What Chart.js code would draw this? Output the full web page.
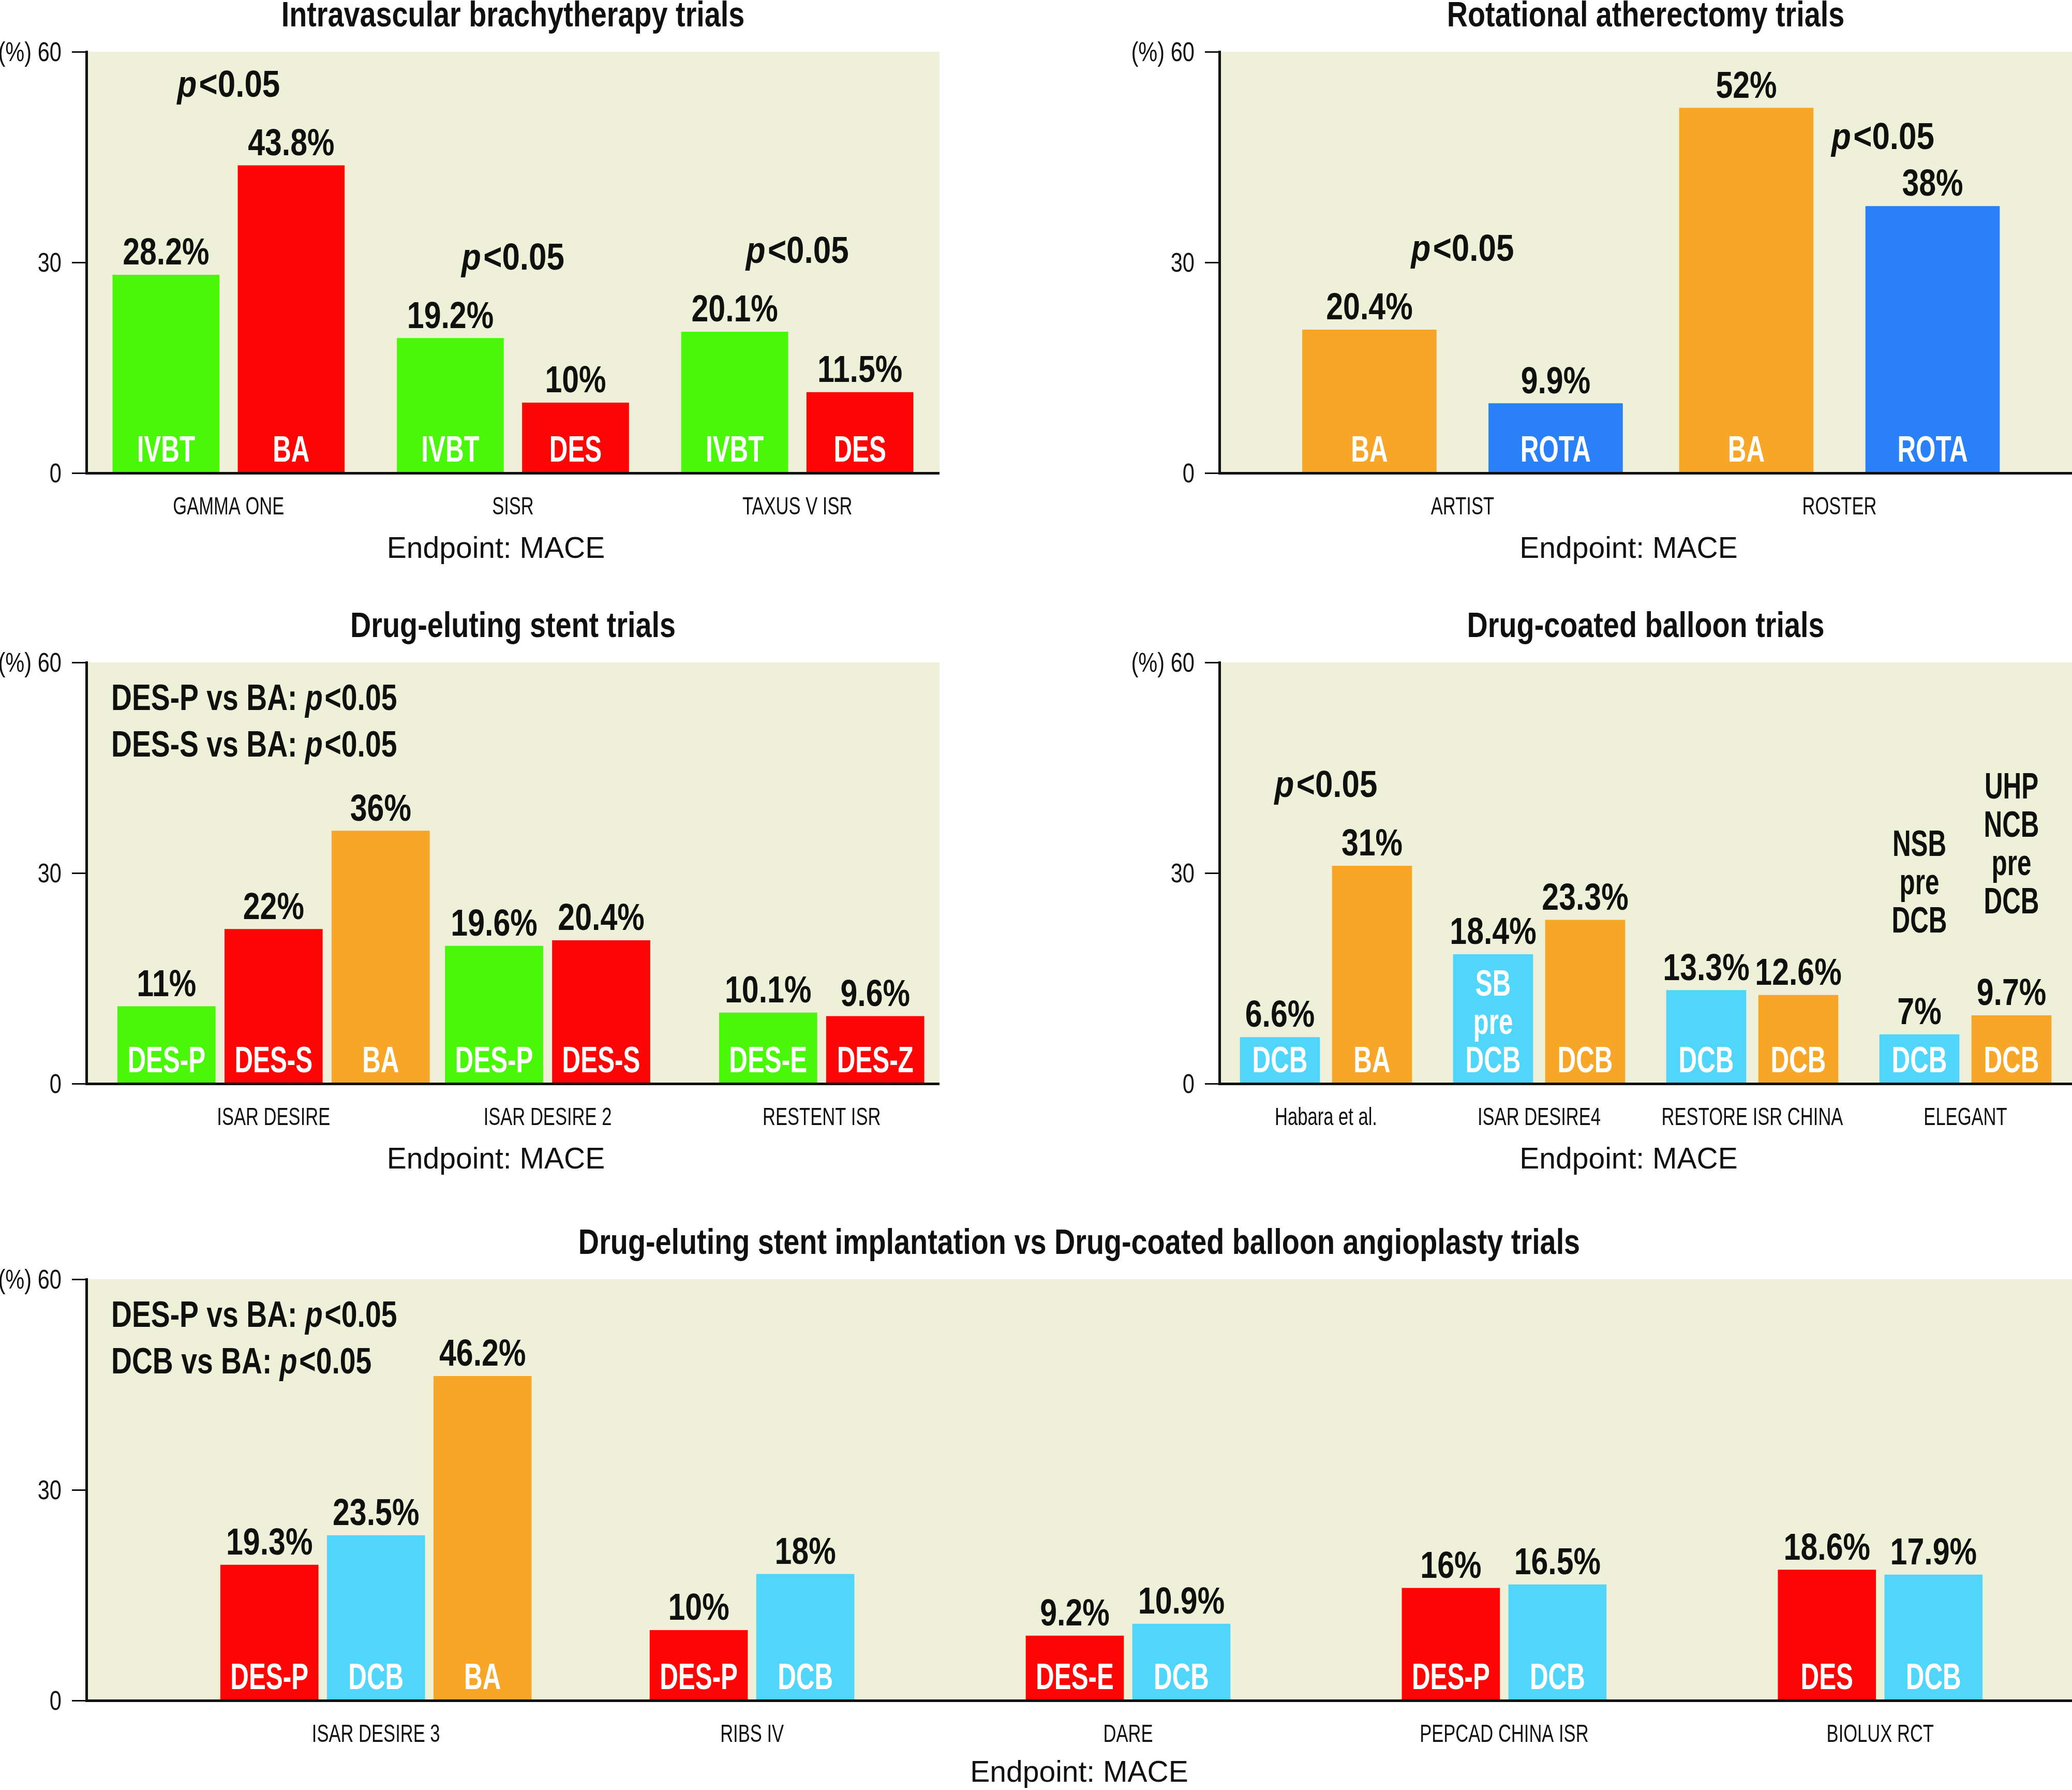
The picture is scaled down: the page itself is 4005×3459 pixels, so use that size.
<!DOCTYPE html>
<html>
<head>
<meta charset="utf-8">
<title>MACE in ISR trials</title>
<script src="https://cdn.jsdelivr.net/npm/chart.js@4.4.1/dist/chart.umd.min.js"></script>
<style>
  html, body { margin: 0; padding: 0; background: #fff; }
  body { width: 4005px; height: 3459px; position: relative; overflow: hidden; }
  canvas { position: absolute; }
</style>
</head>
<body>
<canvas id="ivbtChart"></canvas>
<canvas id="rotaChart"></canvas>
<canvas id="desChart"></canvas>
<canvas id="dcbChart"></canvas>
<canvas id="mixChart"></canvas>
<script>
// Intravascular brachytherapy trials
const ivbtTrials = ['GAMMA ONE', 'SISR', 'TAXUS V ISR'];
const ivbtFirst = [28.2, 19.2, 20.1];
const ivbtFirstTags = ['IVBT', 'IVBT', 'IVBT'];
const ivbtSecond = [43.8, 10, 11.5];
const ivbtSecondTags = ['BA', 'DES', 'DES'];
const ivbtSignificant = [0, 1, 2];

// Rotational atherectomy trials
const rotaTrials = ['ARTIST', 'ROSTER'];
const rotaFirst = [20.4, 52];
const rotaFirstTags = ['BA', 'BA'];
const rotaSecond = [9.9, 38];
const rotaSecondTags = ['ROTA', 'ROTA'];
const rotaSignificant = [0, 1];

// Drug-eluting stent trials
const desTrials = ['ISAR DESIRE', 'ISAR DESIRE 2', 'RESTENT ISR'];
const desFirst = [11, 19.6, 10.1];
const desFirstTags = ['DES-P', 'DES-P', 'DES-E'];
const desSecond = [22, 20.4, 9.6];
const desSecondTags = ['DES-S', 'DES-S', 'DES-Z'];
const desThird = [36, null, null];
const desThirdTags = ['BA', null, null];
const desNotes = ['DES-P vs BA: p<0.05', 'DES-S vs BA: p<0.05'];

// Drug-coated balloon trials
const dcbTrials = ['Habara et al.', 'ISAR DESIRE4', 'RESTORE ISR CHINA', 'ELEGANT'];
const dcbFirst = [6.6, 18.4, 13.3, 7];
const dcbFirstTags = ['DCB', ['SB', 'pre', 'DCB'], 'DCB', 'DCB'];
const dcbFirstNotes = [null, null, null, ['NSB', 'pre', 'DCB']];
const dcbSecond = [31, 23.3, 12.6, 9.7];
const dcbSecondTags = ['BA', 'DCB', 'DCB', 'DCB'];
const dcbSecondNotes = [null, null, null, ['UHP', 'NCB', 'pre', 'DCB']];
const dcbSignificant = [0];

// DES implantation vs DCB angioplasty trials
const mixTrials = ['ISAR DESIRE 3', 'RIBS IV', 'DARE', 'PEPCAD CHINA ISR', 'BIOLUX RCT'];
const mixFirst = [19.3, 10, 9.2, 16, 18.6];
const mixFirstTags = ['DES-P', 'DES-P', 'DES-E', 'DES-P', 'DES'];
const mixSecond = [23.5, 18, 10.9, 16.5, 17.9];
const mixSecondTags = ['DCB', 'DCB', 'DCB', 'DCB', 'DCB'];
const mixThird = [46.2, null, null, null, null];
const mixThirdTags = ['BA', null, null, null, null];
const mixNotes = ['DES-P vs BA: p<0.05', 'DCB vs BA: p<0.05'];

const yTicks = [0, 30, 60];
const endpointText = 'Endpoint: MACE';
const pText = 'p<0.05';

// colours
const GREEN = '#48f808';
const RED = '#fd0505';
const ORANGE = '#f8a628';
const BLUE = '#2980f8';
const CYAN = '#50d5fb';
const PLOT_BG = '#eff0d8';
const INK = '#0e110e';

Chart.defaults.font.family = '"Liberation Sans", Arial, sans-serif';

const panels = [
    {
        canvas: 'ivbtChart', left: 0, top: 0, width: 1816, yWidth: 167, axisHeight: 199,
        title: 'Intravascular brachytherapy trials', trials: ivbtTrials,
        series: [
            { values: ivbtFirst, tags: ivbtFirstTags, color: GREEN },
            { values: ivbtSecond, tags: ivbtSecondTags, color: RED }
        ],
        significant: ivbtSignificant, notes: [],
        xMin: -0.5, xMax: 2.5, pitch: 242, barWidth: 206,
        endpointShift: -33, endpointGap: 164
    },
    {
        canvas: 'rotaChart', left: 2150, top: 0, width: 1855, yWidth: 207, axisHeight: 199,
        title: 'Rotational atherectomy trials', trials: rotaTrials,
        series: [
            { values: rotaFirst, tags: rotaFirstTags, color: ORANGE },
            { values: rotaSecond, tags: rotaSecondTags, color: BLUE }
        ],
        significant: rotaSignificant, pShift: { 1: { dx: 84, lift: 90, ref: 1 } }, notes: [],
        xMin: -0.645, xMax: 1.617, pitch: 360, barWidth: 259,
        endpointShift: -33, endpointGap: 164
    },
    {
        canvas: 'desChart', left: 0, top: 1180, width: 1816, yWidth: 167, axisHeight: 199,
        title: 'Drug-eluting stent trials', trials: desTrials,
        series: [
            { values: desFirst, tags: desFirstTags, color: GREEN },
            { values: desSecond, tags: desSecondTags, color: RED },
            { values: desThird, tags: desThirdTags, color: ORANGE }
        ],
        significant: [], notes: desNotes,
        xMin: -0.683, xMax: 2.43, pitch: 207, barWidth: 189,
        endpointShift: -33, endpointGap: 164
    },
    {
        canvas: 'dcbChart', left: 2150, top: 1180, width: 1855, yWidth: 207, axisHeight: 199,
        title: 'Drug-coated balloon trials', trials: dcbTrials,
        series: [
            { values: dcbFirst, tags: dcbFirstTags, notes: dcbFirstNotes, color: CYAN },
            { values: dcbSecond, tags: dcbSecondTags, notes: dcbSecondNotes, color: ORANGE }
        ],
        significant: dcbSignificant, notes: [],
        xMin: -0.5, xMax: 3.5, pitch: 178, barWidth: 154,
        endpointShift: -33, endpointGap: 164
    },
    {
        canvas: 'mixChart', left: 0, top: 2372, width: 4005, yWidth: 167, axisHeight: 173,
        title: 'Drug-eluting stent implantation vs Drug-coated balloon angioplasty trials', trials: mixTrials,
        series: [
            { values: mixFirst, tags: mixFirstTags, color: RED },
            { values: mixSecond, tags: mixSecondTags, color: CYAN },
            { values: mixThird, tags: mixThirdTags, color: ORANGE }
        ],
        significant: [], notes: mixNotes,
        xMin: -0.77, xMax: 4.51, pitch: 206, barWidth: 189,
        endpointShift: 0, endpointGap: 157
    }
];

function fontStr(size, bold, italic) {
    return (italic ? 'italic ' : '') + (bold ? 'bold ' : '') + size + 'px "Liberation Sans", Arial, sans-serif';
}

// text squeezed horizontally to mimic the condensed face of the original
function drawText(ctx, text, x, y, size, bold, sx, align, color) {
    ctx.save();
    ctx.font = fontStr(size, bold, false);
    ctx.fillStyle = color;
    ctx.textAlign = align;
    ctx.textBaseline = 'alphabetic';
    ctx.translate(x, y);
    ctx.scale(sx, 1);
    ctx.fillText(text, 0, 0);
    ctx.restore();
}

// "... p<0.05" with an italic p
function drawRichP(ctx, text, x, y, size, sx, align) {
    const k = text.lastIndexOf('p<');
    const parts = [
        { t: text.slice(0, k), italic: false },
        { t: 'p', italic: true },
        { t: text.slice(k + 1), italic: false }
    ].filter(part => part.t);
    ctx.save();
    ctx.fillStyle = INK;
    ctx.textAlign = 'left';
    ctx.textBaseline = 'alphabetic';
    let total = 0;
    parts.forEach(part => {
        ctx.font = fontStr(size, true, part.italic);
        part.w = ctx.measureText(part.t).width + (part.italic ? size * 0.07 : 0);
        total += part.w;
    });
    ctx.translate(x, y);
    ctx.scale(sx, 1);
    let cx = align === 'left' ? 0 : -total / 2;
    parts.forEach(part => {
        ctx.font = fontStr(size, true, part.italic);
        ctx.fillText(part.t, cx, 0);
        cx += part.w;
    });
    ctx.restore();
}

function drawLines(ctx, lines, x, baseY, color) {
    const arr = Array.isArray(lines) ? lines : [lines];
    arr.forEach((line, j) => {
        const y = baseY - (arr.length - 1 - j) * 74;
        drawText(ctx, line, x, y, 70, true, 0.705, 'center', color);
    });
}

function panelPlugin(p) {
    return {
        id: 'panelArt',
        beforeDraw(chart) {
            const a = chart.chartArea;
            const ctx = chart.ctx;
            ctx.save();
            ctx.fillStyle = PLOT_BG;
            ctx.fillRect(a.left, a.top, a.right - a.left, a.bottom - a.top);
            ctx.restore();
        },
        afterDraw(chart) {
            const ctx = chart.ctx;
            const a = chart.chartArea;
            const xs = chart.scales.x;
            const ys = chart.scales.y;
            const midX = (a.left + a.right) / 2;
            const yTop = yTicks[yTicks.length - 1];

            drawText(ctx, p.title, midX, a.top - 49, 68, true, 0.82, 'center', INK);

            yTicks.forEach(v => {
                const label = v === yTop ? '(%) ' + v : String(v);
                drawText(ctx, label, a.left - 48, ys.getPixelForValue(v) + 18, 52, false, 0.8, 'right', INK);
            });

            p.trials.forEach((t, i) => {
                drawText(ctx, t, xs.getPixelForValue(i), a.bottom + 80, 48, false, 0.72, 'center', INK);
            });
            drawText(ctx, endpointText, midX + p.endpointShift, a.bottom + p.endpointGap, 57, false, 1, 'center', INK);

            // values above, arm names inside the bars
            p.series.forEach((s, d) => {
                const meta = chart.getDatasetMeta(d);
                s.values.forEach((v, i) => {
                    if (v === null) return;
                    const bar = meta.data[i];
                    const labelY = bar.y - 20;
                    drawText(ctx, v + '%', bar.x, labelY, 72, true, 0.82, 'center', INK);
                    if (s.tags[i]) drawLines(ctx, s.tags[i], bar.x, bar.base - 21, '#fff');
                    if (s.notes && s.notes[i]) drawLines(ctx, s.notes[i], bar.x, labelY - 177, INK);
                });
            });

            // significance marks
            p.significant.forEach(i => {
                const shift = (p.pShift && p.pShift[i]) || {};
                const tops = p.series.map((s, d) => s.values[i] === null ? Infinity : chart.getDatasetMeta(d).data[i].y);
                const ref = shift.ref !== undefined ? tops[shift.ref] : Math.min(...tops);
                const x = xs.getPixelForValue(i) + (shift.dx || 0);
                const y = ref - 20 - (shift.lift || 113);
                drawRichP(ctx, pText, x, y, 72, 0.86, 'center');
            });

            p.notes.forEach((n, k) => {
                drawRichP(ctx, n, a.left + 48, a.top + 92 + k * 90, 70, 0.79, 'left');
            });
        }
    };
}

panels.forEach(p => {
    const canvas = document.getElementById(p.canvas);
    canvas.width = p.width;
    canvas.height = 100 + 814 + p.axisHeight;
    canvas.style.left = p.left + 'px';
    canvas.style.top = p.top + 'px';

    new Chart(canvas.getContext('2d'), {
        type: 'bar',
        data: {
            labels: p.trials.map((_, i) => i),
            datasets: p.series.map(s => ({
                data: s.values,
                backgroundColor: s.color,
                borderWidth: 0,
                barThickness: p.pitch,
                maxBarThickness: p.barWidth,
                skipNull: true
            }))
        },
        options: {
            responsive: false,
            animation: false,
            devicePixelRatio: 1,
            layout: { padding: { top: 100, right: 0, bottom: 0, left: 0 } },
            plugins: {
                legend: { display: false },
                tooltip: { enabled: false },
                title: { display: false }
            },
            scales: {
                x: {
                    type: 'linear',
                    min: p.xMin,
                    max: p.xMax,
                    offset: false,
                    grid: { display: false },
                    ticks: { display: false },
                    border: { display: true, color: INK, width: 5, z: 1 },
                    afterFit: s => { s.height = p.axisHeight; }
                },
                y: {
                    min: yTicks[0],
                    max: yTicks[yTicks.length - 1],
                    ticks: { stepSize: yTicks[1] - yTicks[0], display: false },
                    grid: { drawOnChartArea: false, drawTicks: true, tickLength: 28, color: INK, lineWidth: 3 },
                    border: { display: true, color: INK, width: 5 },
                    afterFit: s => { s.width = p.yWidth; }
                }
            }
        },
        plugins: [panelPlugin(p)]
    });
});
</script>
</body>
</html>
